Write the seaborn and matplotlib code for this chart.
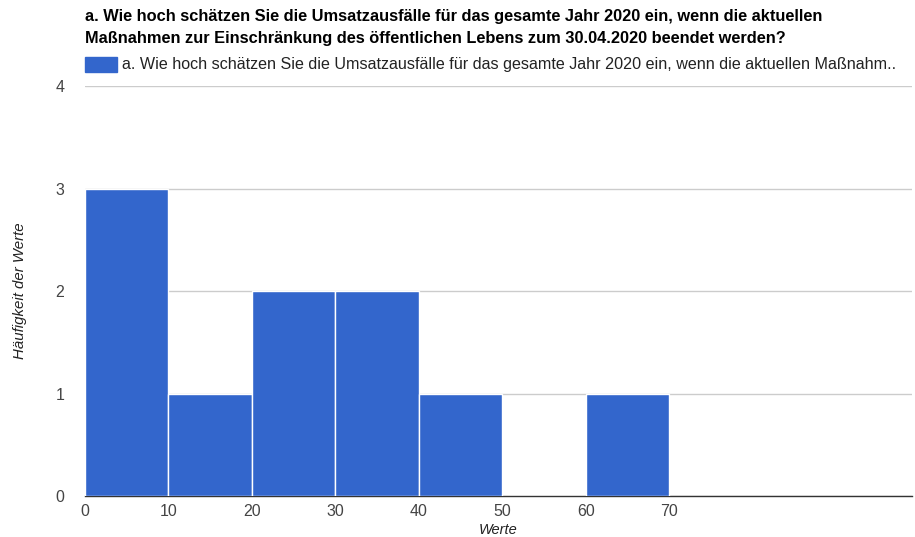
import matplotlib
matplotlib.use("Agg")
import matplotlib.pyplot as plt
import seaborn as sns
import numpy as np

bin_starts = [0, 10, 20, 30, 40, 50, 60]
counts = [3, 1, 2, 2, 1, 0, 1]
bin_edges = [0, 10, 20, 30, 40, 50, 60, 70]
x_ticks = [0, 10, 20, 30, 40, 50, 60, 70]
y_ticks = [0, 1, 2, 3, 4]

title = ("a. Wie hoch schätzen Sie die Umsatzausfälle für das gesamte Jahr 2020 ein, wenn die aktuellen\n"
         "Maßnahmen zur Einschränkung des öffentlichen Lebens zum 30.04.2020 beendet werden?")
legend_label = "a. Wie hoch schätzen Sie die Umsatzausfälle für das gesamte Jahr 2020 ein, wenn die aktuellen Maßnahm.."

sns.set_style("white")
plt.rcParams['font.family'] = ['Liberation Sans', 'DejaVu Sans']

W, H = 915, 537
fig = plt.figure(figsize=(W / 100, H / 100), dpi=100)
ax = fig.add_axes([85 / W, 1 - 496 / H, (912 - 85) / W, (496 - 86) / H])

sns.histplot(x=bin_starts, weights=counts, bins=bin_edges, ax=ax,
             color="#3366CC", alpha=1.0, edgecolor="white", linewidth=1.0, zorder=3)

ax.set_xlim(0, 99.1)
ax.set_ylim(0, 4)
ax.set_xticks(x_ticks)
ax.set_yticks(y_ticks)
ax.grid(axis="y", color="#cccccc", linewidth=1, zorder=0)
ax.set_axisbelow(True)
for s in ["top", "right", "left"]:
    ax.spines[s].set_visible(False)
ax.spines["bottom"].set_color("#333333")
ax.spines["bottom"].set_linewidth(1)
ax.tick_params(axis="both", length=0, labelsize=11.5, colors="#444444")
ax.tick_params(axis="y", pad=15)
ax.tick_params(axis="x", pad=6)
ax.set_xlabel("Werte", fontsize=10.5, style="italic", color="#222222", labelpad=3)
ax.set_ylabel("Häufigkeit der Werte", fontsize=10.8, style="italic", color="#222222", labelpad=20)

fig.text(85 / W, 1 - 17 / H, title.split("\n")[0], fontsize=11.8, fontweight="bold", color="#000000",
         va="center", ha="left")
fig.text(85 / W, 1 - 38 / H, title.split("\n")[1], fontsize=11.8, fontweight="bold", color="#000000",
         va="center", ha="left")
# Legend
fig.patches.append(plt.Rectangle((85 / W, 1 - 72 / H), 32 / W, 15 / H,
                                 transform=fig.transFigure, color="#3366CC", figure=fig))
fig.text(122 / W, 1 - 65 / H, legend_label, fontsize=11.6, color="#222222", va="center", ha="left")

fig.savefig("out.png", dpi=100)
